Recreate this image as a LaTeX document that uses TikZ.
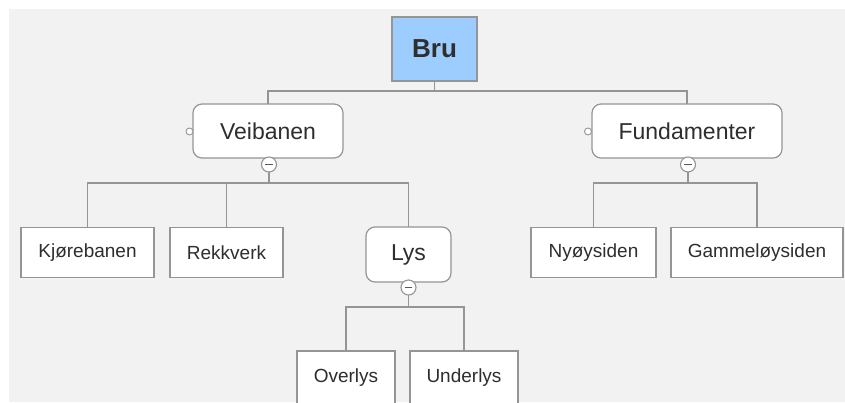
\documentclass[tikz,border=0pt]{standalone}
\usepackage{fontspec}
\setmainfont{Liberation Sans}
\definecolor{bg}{HTML}{F2F2F2}
\definecolor{ln}{HTML}{959595}
\definecolor{txt}{HTML}{2E2E2E}
\definecolor{bruc}{HTML}{9DCCFF}
\begin{document}
\begin{tikzpicture}[x=1pt,y=-1pt,
  every node/.style={inner sep=0pt, outer sep=0pt, text=txt},
  conn/.style={draw=ln, line width=1.3pt},
  rootbox/.style={draw=ln, line width=1.2pt, fill=bruc, font=\fontsize{26}{30}\selectfont\bfseries},
  midbox/.style={draw=ln, line width=1.2pt, fill=white, rounded corners=9pt, font=\fontsize{23}{27}\selectfont},
  leafbox/.style={draw=ln, line width=1.2pt, fill=white!98!bg, font=\fontsize{19}{23}\selectfont},
  minusdot/.style={circle, draw=ln, line width=1.1pt, fill=white, minimum size=15pt},
  handle/.style={circle, draw=ln, line width=0.9pt, fill=white, minimum size=7pt}
]
\useasboundingbox (0,0) rectangle (845,402);
\clip (0,0) rectangle (845,402);
\fill[white] (0,0) rectangle (845,402);
\fill[bg] (9,9) rectangle (845,402);

% nodes
\node[rootbox, minimum width=85pt, minimum height=64pt] (bru) at (434.5,49) {Bru};
\node[midbox, minimum width=150pt, minimum height=54pt] (vei) at (268,131) {Veibanen};
\node[midbox, minimum width=190pt, minimum height=54pt] (fund) at (687,131) {Fundamenter};
\node[leafbox, minimum width=133pt, minimum height=50pt] (kjo) at (87.5,252.5) {Kjørebanen};
\node[leafbox, minimum width=113pt, minimum height=50pt] (rek) at (226.5,252.5) {Rekkverk};
\node[midbox, minimum width=85pt, minimum height=55pt] (lys) at (408.5,254.5) {Lys};
\node[leafbox, minimum width=125pt, minimum height=50pt] (ny) at (593.5,252.5) {Nyøysiden};
\node[leafbox, minimum width=172pt, minimum height=50pt] (gam) at (757,252.5) {Gammeløysiden};
\node[leafbox, minimum width=98pt, minimum height=54pt] (over) at (346,378) {Overlys};
\node[leafbox, minimum width=108pt, minimum height=54pt] (under) at (464,378) {Underlys};

% junction points
\coordinate (j1) at (434.5,91);
\coordinate (j2) at (269,183);
\coordinate (j3) at (408.5,307);
\coordinate (j4) at (688,183);

% connectors
\draw[conn] (bru.south) -- (j1);
\draw[conn] (vei.north) |- (j1) -| (fund.north);
\draw[conn] (kjo.north) |- (j2) -| (lys.north);
\draw[conn] (rek.north) -- (rek.north |- j2);
\draw[conn] (over.north) |- (j3) -| (under.north);
\draw[conn] (ny.north) |- (j4) -| (gam.north);

% collapse markers
\node[minusdot] (vm) at (269,164.5) {};
\node[minusdot] (fm) at (688,164.5) {};
\node[minusdot] (lm) at (408.5,287.5) {};
\draw[conn] (vm.south) -- (j2);
\draw[conn] (fm.south) -- (j4);
\draw[conn] (lm.south) -- (j3);
\foreach \m in {vm,fm,lm}{
  \draw[txt!80, line width=1.5pt] ([xshift=-3.8pt]\m.center) -- ([xshift=3.8pt]\m.center);
}

% side handles
\node[handle] (vh) at (189.5,131.5) {};
\node[handle] (fh) at (588,131.5) {};
\end{tikzpicture}
\end{document}
